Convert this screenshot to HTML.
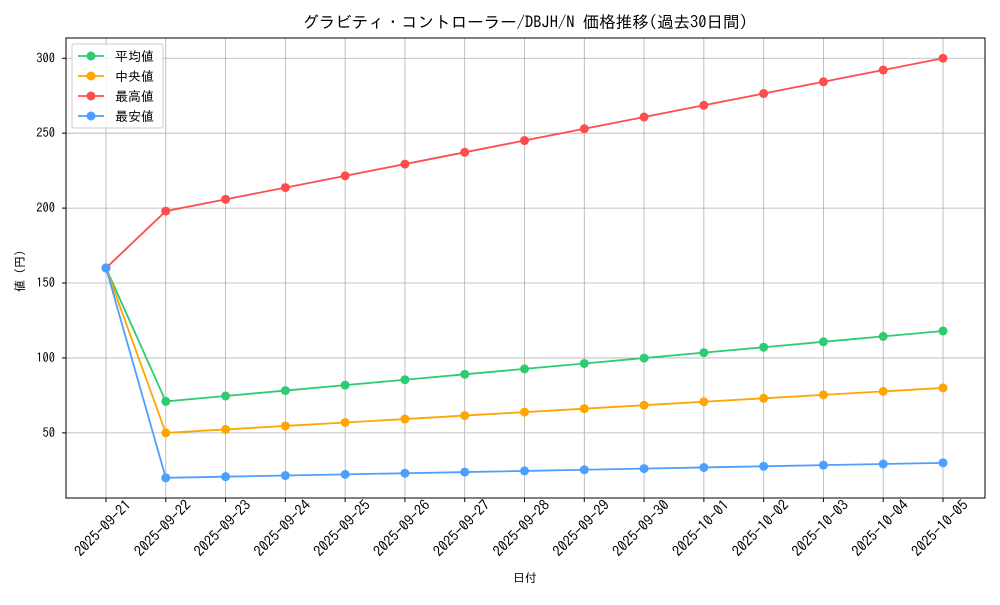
<!DOCTYPE html>
<html><head><meta charset="utf-8"><style>
body{margin:0;background:#fff}
svg text{font-family:"IPAGothic","Noto Sans CJK JP",monospace;fill:#000}
</style></head><body>
<svg width="1000" height="600" xmlns="http://www.w3.org/2000/svg">
<rect width="1000" height="600" fill="#fff"/>
<g id="grid" stroke="#b0b0b0" stroke-width="0.8"></g>
<rect x="66" y="38" width="919" height="460" fill="none" stroke="#000" stroke-width="1"/>
<g id="ticks"></g>
<g id="series"></g>
<text x="525" y="28" text-anchor="middle" font-size="16.5">グラビティ・コントローラー/DBJH/N 価格推移(過去30日間)</text>
<text x="525" y="582" text-anchor="middle" font-size="12">日付</text>
<text transform="translate(24,268) rotate(-90)" text-anchor="middle" font-size="12">値（円）</text>
<g id="legend">
<rect x="72" y="44" width="91" height="84" fill="#fff" fill-opacity="0.8" stroke="#ccc" rx="2"/>
</g>
</svg>
<script>
const ns="http://www.w3.org/2000/svg";
function el(p,t,a,txt){const e=document.createElementNS(ns,t);for(const k in a)e.setAttribute(k,a[k]);if(txt)e.textContent=txt;document.getElementById(p).appendChild(e);return e;}
const X=i=>106+i*59.786, Y=v=>507.8-v*1.4985;
const dates=["2025-09-21","2025-09-22","2025-09-23","2025-09-24","2025-09-25","2025-09-26","2025-09-27","2025-09-28","2025-09-29","2025-09-30","2025-10-01","2025-10-02","2025-10-03","2025-10-04","2025-10-05"];
dates.forEach((d,i)=>{const x=X(i);el("grid","line",{x1:x,x2:x,y1:38,y2:498});
el("ticks","line",{x1:x,x2:x,y1:498,y2:502,stroke:"#000"});
el("ticks","text",{x:0,y:0,"font-size":"14.5","text-anchor":"end",transform:`translate(${x+26},${506}) rotate(-45)`},d);});
[50,100,150,200,250,300].forEach(v=>{const y=Y(v);el("grid","line",{x1:66,x2:985,y1:y,y2:y});
el("ticks","line",{x1:62,x2:66,y1:y,y2:y,stroke:"#000"});
el("ticks","text",{x:55,y:y+4,"font-size":"12.5","text-anchor":"end"},String(v));});
function lin(a,b,first){const r=[first];for(let i=0;i<14;i++)r.push(a+(b-a)*i/13);return r;}
const S=[["平均値","#2ecc71",lin(71,118,160)],["中央値","#ffa500",lin(50,80,160)],["最高値","#ff4d4d",lin(198,300,160)],["最安値","#4d9fff",lin(20,30,160)]];
S.forEach((s,k)=>{el("series","polyline",{points:s[2].map((v,i)=>X(i)+","+Y(v)).join(" "),fill:"none",stroke:s[1],"stroke-width":"1.8"});
s[2].forEach((v,i)=>el("series","circle",{cx:X(i),cy:Y(v),r:4.5,fill:s[1]}));
const ly=56+k*20;el("legend","line",{x1:78,x2:104,y1:ly,y2:ly,stroke:s[1],"stroke-width":"1.8"});
el("legend","circle",{cx:91,cy:ly,r:4.5,fill:s[1]});
el("legend","text",{x:115,y:ly+5,"font-size":"13"},s[0]);});
</script>
</body></html>
